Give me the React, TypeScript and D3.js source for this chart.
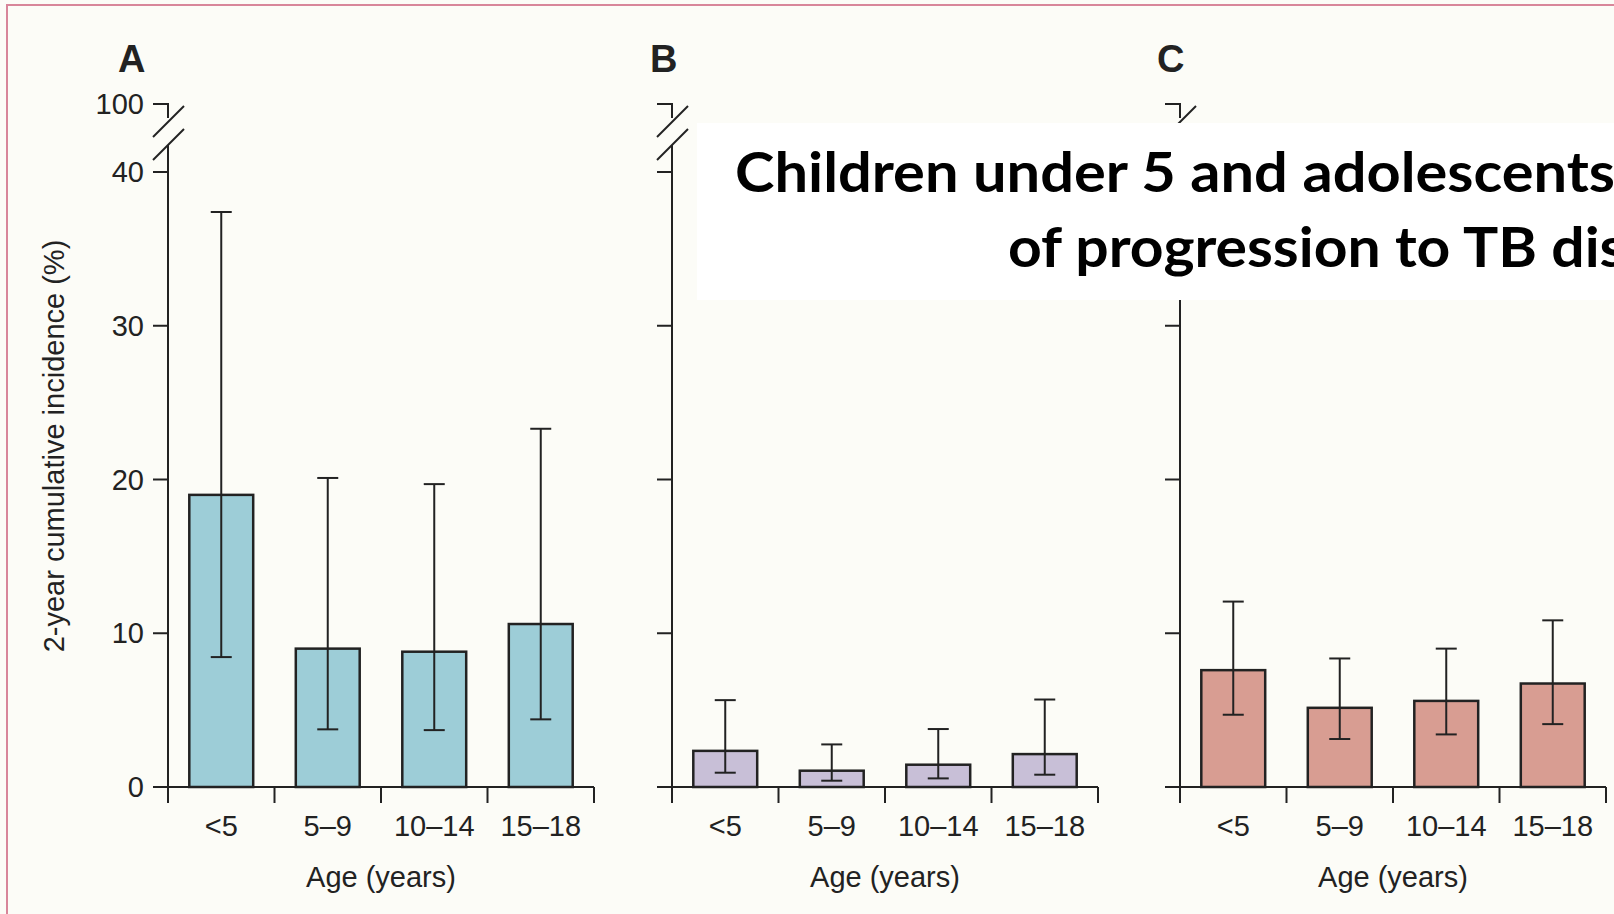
import * as d3 from 'd3';
import React from 'react';

// age groups on every panel
const ageGroups = ['<5', '5–9', '10–14', '15–18'];

// 2-year cumulative incidence (%), point estimate and 95% CI, per panel
const meanA = [19.0, 9.0, 8.8, 10.6];
const lowA = [8.45, 3.75, 3.7, 4.4];
const highA = [37.4, 20.1, 19.7, 23.3];

const meanB = [2.35, 1.06, 1.45, 2.14];
const lowB = [0.93, 0.41, 0.56, 0.8];
const highB = [5.65, 2.77, 3.77, 5.69];

const meanC = [7.6, 5.15, 5.6, 6.73];
const lowC = [4.7, 3.12, 3.42, 4.09];
const highC = [12.06, 8.36, 9.0, 10.84];

const yTicks = [0, 10, 20, 30, 40];
const breakTickLabel = '100';
const panelLabels = ['A', 'B', 'C'];
const titleLines = ['Children under 5 and adolescents', 'of progression to TB disease'];

const W = 1614, H = 914;
const axisXs = [168, 672, 1180];
const labelXs = [118, 650, 1157];
const panelW = 426;
const y0 = 787, y40 = 172, y100 = 104;
const ink = '#222';
const sans = "'Liberation Sans', Arial, sans-serif";

const fills = ['#9dcdd7', '#c8bfd7', '#d89d92'];
const series = [
  { mean: meanA, low: lowA, high: highA },
  { mean: meanB, low: lowB, high: highB },
  { mean: meanC, low: lowC, high: highC },
];

function Panel({ idx }) {
  const ax = axisXs[idx];
  const s = series[idx];
  const y = d3.scaleLinear().domain([0, 40]).range([y0, y40]);
  const x = d3.scaleBand().domain(ageGroups).range([ax, ax + panelW])
    .paddingInner(0.4).paddingOuter(0.2);
  const step = x.step();
  const bw = x.bandwidth();
  const bounds = d3.range(ageGroups.length + 1).map(i => ax + i * step);
  const capW = 10.5;

  return (
    <g>
      <text x={labelXs[idx]} y={72} fontFamily={sans} fontWeight="bold" fontSize={38} fill={ink}>
        {panelLabels[idx]}
      </text>

      {/* broken y axis */}
      <g stroke={ink} strokeWidth={2} fill="none">
        <path d={`M${ax - 15},${y100}H${ax}V${y100 + 14}`} />
        <line x1={ax - 15} y1={y100 + 33} x2={ax + 16} y2={y100 + 2} />
        <line x1={ax - 15} y1={y100 + 56} x2={ax + 16} y2={y100 + 25} />
        <line x1={ax} y1={y100 + 41} x2={ax} y2={y0} />
        {yTicks.map(t => (
          <line key={t} x1={ax - 15} x2={ax} y1={y(t)} y2={y(t)} />
        ))}
        <line x1={ax - 15} x2={ax + panelW} y1={y0} y2={y0} />
        {bounds.map((b, i) => (
          <line key={i} x1={b} x2={b} y1={y0} y2={y0 + 16} />
        ))}
      </g>

      {idx === 0 && (
        <g fontFamily={sans} fontSize={29} fill={ink} textAnchor="end">
          <text x={144} y={y100 + 10}>{breakTickLabel}</text>
          {yTicks.map(t => (
            <text key={t} x={144} y={y(t) + 10}>{t}</text>
          ))}
          <text transform={`translate(64,446) rotate(-90)`} textAnchor="middle">
            2-year cumulative incidence (%)
          </text>
        </g>
      )}

      {/* bars */}
      {ageGroups.map((g, i) => (
        <rect key={g} x={x(g)} y={y(s.mean[i])} width={bw} height={y0 - y(s.mean[i])}
          fill={fills[idx]} stroke={ink} strokeWidth={2.5} />
      ))}

      {/* error bars */}
      <g stroke={ink} strokeWidth={2}>
        {ageGroups.map((g, i) => {
          const cx = x(g) + bw / 2;
          return (
            <g key={g}>
              <line x1={cx} x2={cx} y1={y(s.high[i])} y2={y(s.low[i])} />
              <line x1={cx - capW} x2={cx + capW} y1={y(s.high[i])} y2={y(s.high[i])} />
              <line x1={cx - capW} x2={cx + capW} y1={y(s.low[i])} y2={y(s.low[i])} />
            </g>
          );
        })}
      </g>

      <g fontFamily={sans} fontSize={29} fill={ink} textAnchor="middle">
        {ageGroups.map(g => (
          <text key={g} x={x(g) + bw / 2} y={836}>{g}</text>
        ))}
        <text x={ax + panelW / 2} y={887}>Age (years)</text>
      </g>
    </g>
  );
}

export default function App() {
  return (
    <svg width={W} height={H} viewBox={`0 0 ${W} ${H}`}
      style={{ position: 'absolute', left: 0, top: 0, display: 'block' }}>
      <rect x={0} y={0} width={W} height={H} fill="#fcfcf7" />
      <path d={`M7,${H}V5H${W}`} fill="none" stroke="#d8869a" strokeWidth={2} />
      {panelLabels.map((_, i) => <Panel key={i} idx={i} />)}

      {/* overlaid title box */}
      <rect x={697} y={123} width={W - 697} height={177} fill="#ffffff" />
      <g fontFamily="Lato, 'Open Sans', sans-serif" fontWeight="bold" fontSize={56} fill="#000">
        <text x={735} y={192} textLength={880} lengthAdjust="spacingAndGlyphs">{titleLines[0]}</text>
        <text x={1008} y={267} textLength={736} lengthAdjust="spacingAndGlyphs">{titleLines[1]}</text>
      </g>
    </svg>
  );
}
